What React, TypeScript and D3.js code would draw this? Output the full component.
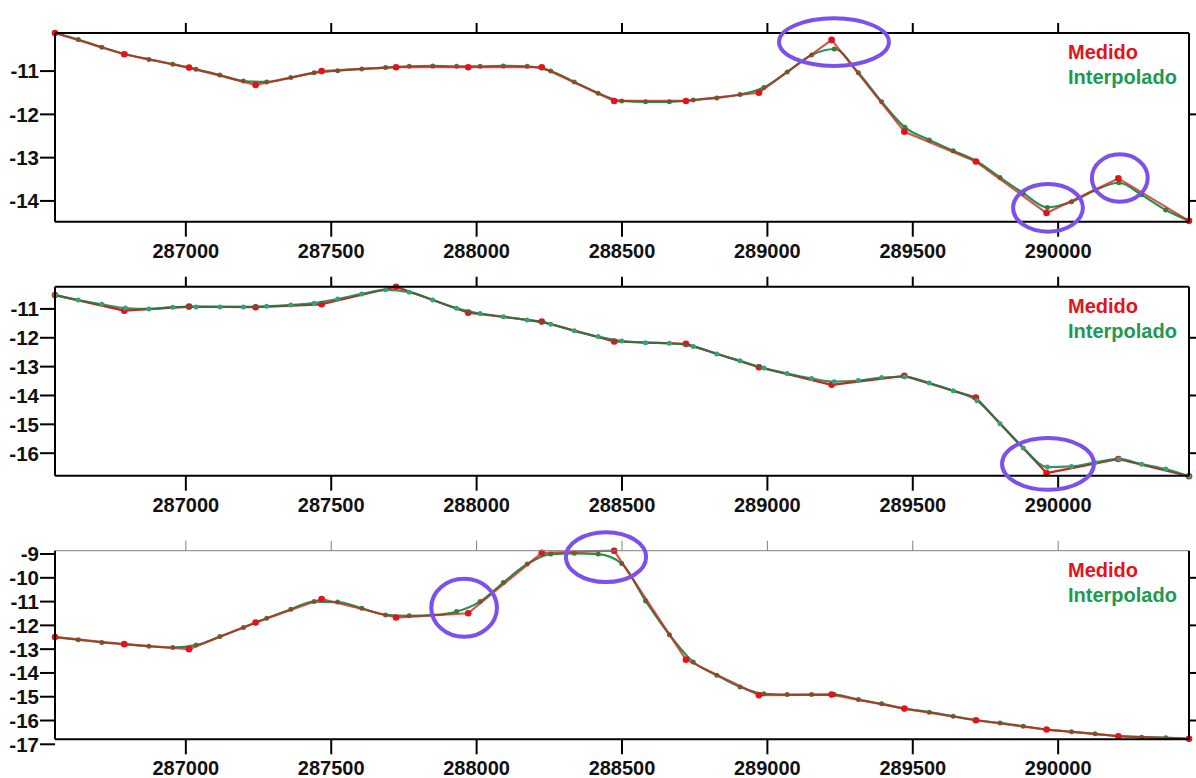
import React from 'react';
import * as d3 from 'd3';

// ---------- data ----------
const X_DOMAIN = [286550, 290450];
const X_TICKS = [287000, 287500, 288000, 288500, 289000, 289500, 290000];

const X_INTERP = [286550, 286630, 286711, 286792, 286873, 286955, 287035, 287117, 287198, 287278, 287361, 287441, 287522, 287605, 287687, 287768, 287849, 287931, 288012, 288092, 288174, 288255, 288336, 288418, 288499, 288581, 288663, 288745, 288826, 288906, 288988, 289068, 289152, 289230, 289313, 289393, 289473, 289557, 289639, 289721, 289800, 289880, 289963, 290046, 290127, 290209, 290287, 290370, 290450];
const X_MEASURED = [286550, 286788, 287011, 287240, 287467, 287723, 287971, 288224, 288473, 288720, 288971, 289221, 289471, 289717, 289960, 290207, 290450];

const P1_MEASURED = [-10.12, -10.61, -10.92, -11.32, -11.0, -10.91, -10.91, -10.91, -11.69, -11.69, -11.5, -10.28, -12.4, -13.09, -14.28, -13.48, -14.46];
const P1_INTERP = [-10.12, -10.27, -10.45, -10.61, -10.73, -10.84, -10.96, -11.09, -11.23, -11.25, -11.15, -11.04, -10.99, -10.95, -10.92, -10.89, -10.88, -10.89, -10.89, -10.88, -10.89, -11.0, -11.25, -11.51, -11.69, -11.71, -11.71, -11.67, -11.62, -11.54, -11.38, -11.02, -10.63, -10.49, -11.04, -11.71, -12.3, -12.59, -12.84, -13.09, -13.46, -13.82, -14.15, -14.02, -13.75, -13.58, -13.86, -14.21, -14.46];

const P2_MEASURED = [-10.52, -11.06, -10.92, -10.94, -10.84, -10.23, -11.13, -11.44, -12.13, -12.21, -13.02, -13.63, -13.32, -14.07, -16.69, -16.2, -16.8];
const P2_INTERP = [-10.52, -10.69, -10.84, -10.97, -11.0, -10.94, -10.93, -10.93, -10.93, -10.91, -10.86, -10.8, -10.66, -10.48, -10.34, -10.42, -10.69, -10.98, -11.16, -11.27, -11.38, -11.53, -11.76, -11.96, -12.11, -12.17, -12.19, -12.3, -12.56, -12.8, -13.05, -13.24, -13.41, -13.52, -13.48, -13.38, -13.35, -13.57, -13.84, -14.18, -14.98, -15.82, -16.48, -16.46, -16.32, -16.2, -16.38, -16.55, -16.8];

const P3_MEASURED = [-12.49, -12.79, -13.0, -11.88, -10.89, -11.67, -11.49, -8.95, -8.86, -13.44, -14.94, -14.91, -15.5, -15.99, -16.38, -16.66, -16.77];
const P3_INTERP = [-12.49, -12.6, -12.72, -12.79, -12.88, -12.93, -12.83, -12.47, -12.09, -11.7, -11.32, -11.0, -11.02, -11.28, -11.56, -11.6, -11.57, -11.42, -11.0, -10.2, -9.42, -9.0, -8.97, -9.0, -9.4, -10.97, -12.39, -13.54, -14.1, -14.59, -14.88, -14.91, -14.91, -14.91, -15.12, -15.3, -15.5, -15.65, -15.82, -15.99, -16.1, -16.24, -16.38, -16.47, -16.56, -16.66, -16.7, -16.72, -16.77];

const P1_Y_TICKS = [-11, -12, -13, -14];
const P2_Y_TICKS = [-11, -12, -13, -14, -15, -16];
const P3_Y_TICKS = [-9, -10, -11, -12, -13, -14, -15, -16, -17];
const P1_Y_RIGHT = [-12, -14];
const P2_Y_RIGHT = [-12, -14, -16];
const P3_Y_RIGHT = [-10, -12, -14, -16];

const LEGEND_LABELS = ['Medido', 'Interpolado'];

// annotation ellipses (data units: cx, cy, rx, ry)
const P1_MARKS = [[289229, -10.33, 189, 0.55], [289965, -14.16, 120, 0.55], [290212, -13.47, 96, 0.55]];
const P2_MARKS = [[289965, -16.37, 158, 0.9]];
const P3_MARKS = [[287957, -11.26, 113, 1.22], [288445, -9.13, 138, 1.05]];

// ---------- layout / style ----------
const W = 1196;
const H = 778;
const LEFT = 55;
const RIGHT = 1189;
const RED = '#e3121b';
const GREEN = '#1c9a50';
const PURPLE = '#7b50ee';
const FONT = '"Liberation Sans", Arial, Helvetica, sans-serif';

const PANELS = [
  { top: 33, bottom: 221.7, yDomain: [-14.48, -10.12], yTicks: P1_Y_TICKS, yRight: P1_Y_RIGHT, measured: P1_MEASURED, interp: P1_INTERP, marks: P1_MARKS, greenOnTop: false, thinTop: false },
  { top: 286.7, bottom: 475.7, yDomain: [-16.78, -10.23], yTicks: P2_Y_TICKS, yRight: P2_Y_RIGHT, measured: P2_MEASURED, interp: P2_INTERP, marks: P2_MARKS, greenOnTop: true, thinTop: false },
  { top: 550.7, bottom: 739.3, yDomain: [-16.79, -8.86], yTicks: P3_Y_TICKS, yRight: P3_Y_RIGHT, measured: P3_MEASURED, interp: P3_INTERP, marks: P3_MARKS, greenOnTop: false, thinTop: true },
];

function Panel({ cfg }: { cfg: any }) {
  const x = d3.scaleLinear().domain(X_DOMAIN).range([LEFT, RIGHT]);
  const y = d3.scaleLinear().domain(cfg.yDomain).range([cfg.bottom, cfg.top]);

  const measPts = X_MEASURED.map((xv, i) => [xv, cfg.measured[i]] as [number, number]);
  const intPts = X_INTERP.map((xv, i) => [xv, cfg.interp[i]] as [number, number]);

  const redLine = d3.line<[number, number]>().x(d => x(d[0])).y(d => y(d[1]))(measPts) || '';
  const greenLine = d3.line<[number, number]>().x(d => x(d[0])).y(d => y(d[1])).curve(d3.curveMonotoneX)(intPts) || '';

  const redLayer = (
    <g key="red">
      <path d={redLine} fill="none" stroke="#c8261c" strokeWidth={2.2} strokeOpacity={cfg.greenOnTop ? 1 : 0.78} strokeLinejoin="round" />
      {measPts.map((p, i) => (
        <circle key={i} cx={x(p[0])} cy={y(p[1])} r={3.3} fill={RED} />
      ))}
    </g>
  );
  const greenLayer = (
    <g key="green">
      <path d={greenLine} fill="none" stroke={cfg.greenOnTop ? '#1e7a4a' : '#1f9450'} strokeWidth={2.2} strokeOpacity={cfg.greenOnTop ? 0.85 : 1} strokeLinejoin="round" />
      {intPts.map((p, i) => (
        <circle key={i} cx={x(p[0])} cy={y(p[1])} r={2.5} fill={cfg.greenOnTop ? '#38a078' : '#3f7a3a'} />
      ))}
    </g>
  );

  const topStroke = cfg.thinTop ? '#808080' : '#000';
  const topW = cfg.thinTop ? 1 : 2;

  return (
    <g>
      {cfg.greenOnTop ? [redLayer, greenLayer] : [greenLayer, redLayer]}

      <line x1={LEFT} x2={RIGHT} y1={cfg.top} y2={cfg.top} stroke={topStroke} strokeWidth={topW} />
      <line x1={LEFT} x2={RIGHT} y1={cfg.bottom} y2={cfg.bottom} stroke="#000" strokeWidth={2} />
      <line x1={LEFT} x2={LEFT} y1={cfg.top} y2={cfg.bottom} stroke="#000" strokeWidth={2} />
      <line x1={RIGHT} x2={RIGHT} y1={cfg.top} y2={cfg.bottom} stroke="#000" strokeWidth={2} />

      {X_TICKS.map(t => (
        <g key={t}>
          <line x1={x(t)} x2={x(t)} y1={cfg.top} y2={cfg.top - 10} stroke={topStroke} strokeWidth={topW} />
          <line x1={x(t)} x2={x(t)} y1={cfg.bottom} y2={cfg.bottom + 15} stroke="#000" strokeWidth={2} />
          <text x={x(t)} y={cfg.bottom + 36} textAnchor="middle" fontFamily={FONT} fontWeight="bold" fontSize={20} fill="#111">
            {t}
          </text>
        </g>
      ))}

      {cfg.yTicks.map((t: number) => (
        <g key={t}>
          <line x1={LEFT - 15} x2={LEFT} y1={y(t)} y2={y(t)} stroke="#000" strokeWidth={2} />
          <text x={LEFT - 16} y={y(t)} dy="0.36em" textAnchor="end" fontFamily={FONT} fontWeight="bold" fontSize={20.5} fill="#111">
            {t}
          </text>
        </g>
      ))}
      {cfg.yRight.map((t: number) => (
        <line key={t} x1={RIGHT} x2={RIGHT + 8} y1={y(t)} y2={y(t)} stroke="#000" strokeWidth={2} />
      ))}

      <text x={1068} y={cfg.top + 26} fontFamily={FONT} fontWeight="bold" fontSize={20} fill={RED}>
        {LEGEND_LABELS[0]}
      </text>
      <text x={1068} y={cfg.top + 51} fontFamily={FONT} fontWeight="bold" fontSize={20} fill={GREEN}>
        {LEGEND_LABELS[1]}
      </text>

      {cfg.marks.map((m: number[], i: number) => {
        const cx = x(m[0]);
        const cy = y(m[1]);
        const rx = x(m[0] + m[2]) - cx;
        const ry = cy - y(m[1] + m[3]);
        return <ellipse key={i} cx={cx} cy={cy} rx={rx} ry={ry} fill="none" stroke={PURPLE} strokeWidth={4} />;
      })}
    </g>
  );
}

export default function App() {
  return (
    <svg width={W} height={H} style={{ position: 'absolute', left: 0, top: 0, background: '#fff' }}>
      <rect x={0} y={0} width={W} height={H} fill="#fff" />
      {PANELS.map((cfg, i) => (
        <Panel key={i} cfg={cfg} />
      ))}
    </svg>
  );
}
